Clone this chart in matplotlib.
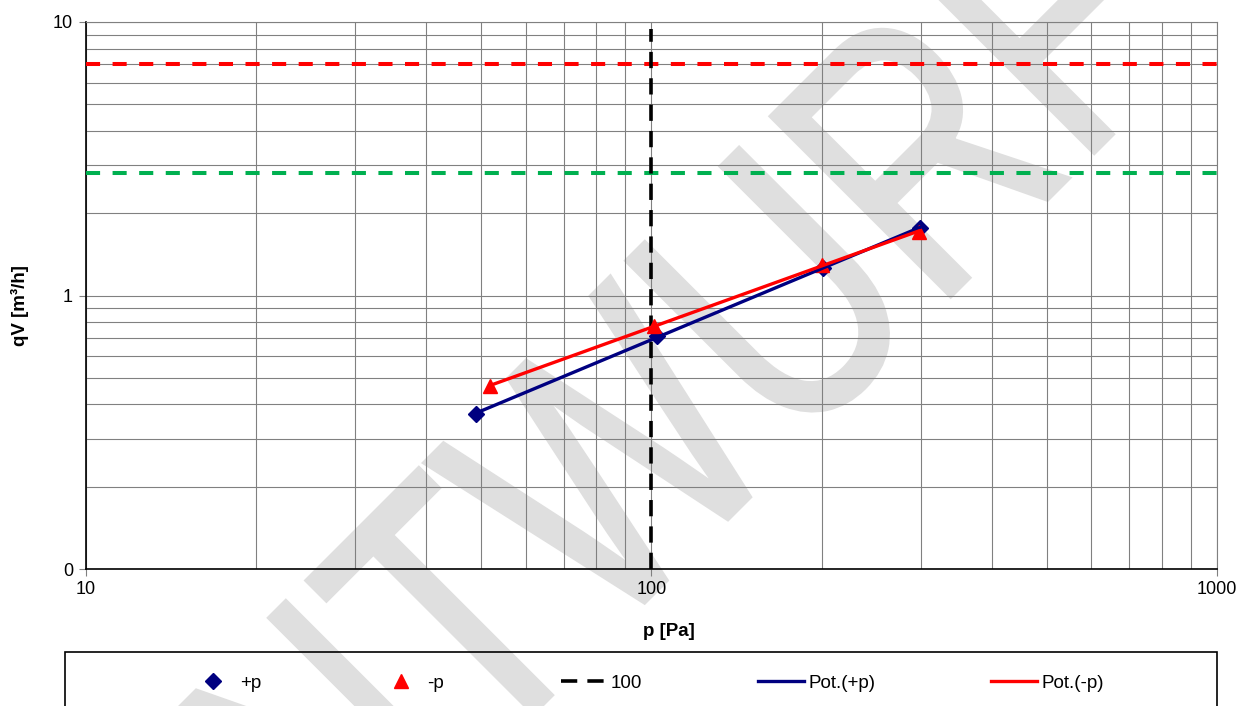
import numpy as np
import matplotlib
matplotlib.use("Agg")
import matplotlib.pyplot as plt
from matplotlib.patches import Rectangle, PathPatch
from matplotlib.textpath import TextPath
from matplotlib.font_manager import FontProperties
from matplotlib.transforms import Affine2D, IdentityTransform

plt.rcParams['font.family'] = ['Liberation Sans', 'DejaVu Sans']

# ---- data ----
p_plus = [49.0, 102.4, 201.0, 298.5]
qv_plus = [0.369, 0.711, 1.26, 1.765]
p_minus = [51.9, 101.0, 200.0, 297.0]
qv_minus = [0.467, 0.774, 1.29, 1.71]
ref_p = [100, 100]
ref_q = [0.1, 9.4]
limit_red = 7.0
limit_green = 2.8
x_ticks = [10, 100, 1000]
x_ticklabels = ["10", "100", "1000"]
y_ticks = [0.1, 1, 10]
y_ticklabels = ["0", "1", "10"]
legend_labels = ["+p", "-p", "100", "Pot.(+p)", "Pot.(-p)"]
watermark = "ENTWURF"

W, H = 1248, 706
fig = plt.figure(figsize=(W / 100, H / 100), dpi=100)
ax = fig.add_axes([85.5 / W, 1 - 569 / H, (1217 - 85.5) / W, (569 - 22) / H])
ax.set_xscale('log')
ax.set_yscale('log')
ax.set_xlim(10, 1000)
ax.set_ylim(0.1, 10)

ax.grid(True, which='both', color='#808080', lw=0.8)
ax.set_axisbelow(True)

def power_fit(x, y):
    b, a = np.polyfit(np.log10(x), np.log10(y), 1)
    xs = np.array([min(x), max(x)])
    return xs, 10 ** a * xs ** b

navy = '#000080'
red = '#ff0000'

ax.axhline(limit_red, color=red, lw=2.9, dashes=(3.5, 3.1), zorder=3)
ax.axhline(limit_green, color='#00b050', lw=2.9, dashes=(3.5, 3.1), zorder=3)

h1, = ax.plot(p_plus, qv_plus, ls='none', marker='D', ms=8, color=navy, zorder=4)
h2, = ax.plot(p_minus, qv_minus, ls='none', marker='^', ms=10, color=red, zorder=4)
h3, = ax.plot(ref_p, ref_q, color='black', lw=2.6, dashes=(4.5, 2.8), zorder=3)
xs, ys = power_fit(p_plus, qv_plus)
h4, = ax.plot(xs, ys, color=navy, lw=2.4, zorder=5)
xs, ys = power_fit(p_minus, qv_minus)
h5, = ax.plot(xs, ys, color=red, lw=2.4, zorder=5)

ax.set_xticks(x_ticks)
ax.set_xticklabels(x_ticklabels)
ax.set_yticks(y_ticks)
ax.set_yticklabels(y_ticklabels)
ax.xaxis.set_minor_locator(matplotlib.ticker.LogLocator(base=10, subs=np.arange(2, 10)))
ax.yaxis.set_minor_locator(matplotlib.ticker.LogLocator(base=10, subs=np.arange(2, 10)))
ax.xaxis.set_minor_formatter(matplotlib.ticker.NullFormatter())
ax.yaxis.set_minor_formatter(matplotlib.ticker.NullFormatter())
ax.tick_params(which='minor', length=0)
ax.tick_params(which='major', length=5, color='#808080', labelsize=13, pad=4)

for s in ['left', 'bottom']:
    ax.spines[s].set_color('black')
    ax.spines[s].set_linewidth(1.2)
for s in ['top', 'right']:
    ax.spines[s].set_color('#808080')
    ax.spines[s].set_linewidth(0.8)

fig.text(669 / W, 1 - 632 / H, 'p [Pa]', ha='center', va='center', fontsize=13.5, fontweight='bold')
fig.text(20 / W, 1 - 306 / H, 'qV [m³/h]', ha='center', va='center', rotation=90, fontsize=13.5, fontweight='bold')

# watermark (stretched, rotated text outline in pixel space)
tp = TextPath((0, 0), watermark, size=1, prop=FontProperties(family='Liberation Sans'))
wm_tr = Affine2D().scale(281, 370).rotate_deg(45).translate(206, -335)
wm = PathPatch(wm_tr.transform_path(tp), transform=IdentityTransform(),
               facecolor='#dfdfdf', edgecolor='#dfdfdf', lw=3, joinstyle='miter',
               zorder=0.3, clip_on=False)
ax.add_artist(wm)

# legend box
fig.patches.append(Rectangle((65 / W, -0.05), (1217 - 65) / W, 0.05 + (706 - 652) / H,
                             transform=fig.transFigure, fill=False, ec='black', lw=1.2))
fig.legend([h1, h2, h3, h4, h5], legend_labels, loc='center',
           bbox_to_anchor=(647 / W, 1 - 683 / H), ncol=5, frameon=False,
           fontsize=13.5, handlelength=2.45, handletextpad=0.21, columnspacing=6.2)

fig.savefig('out.png', dpi=100)
